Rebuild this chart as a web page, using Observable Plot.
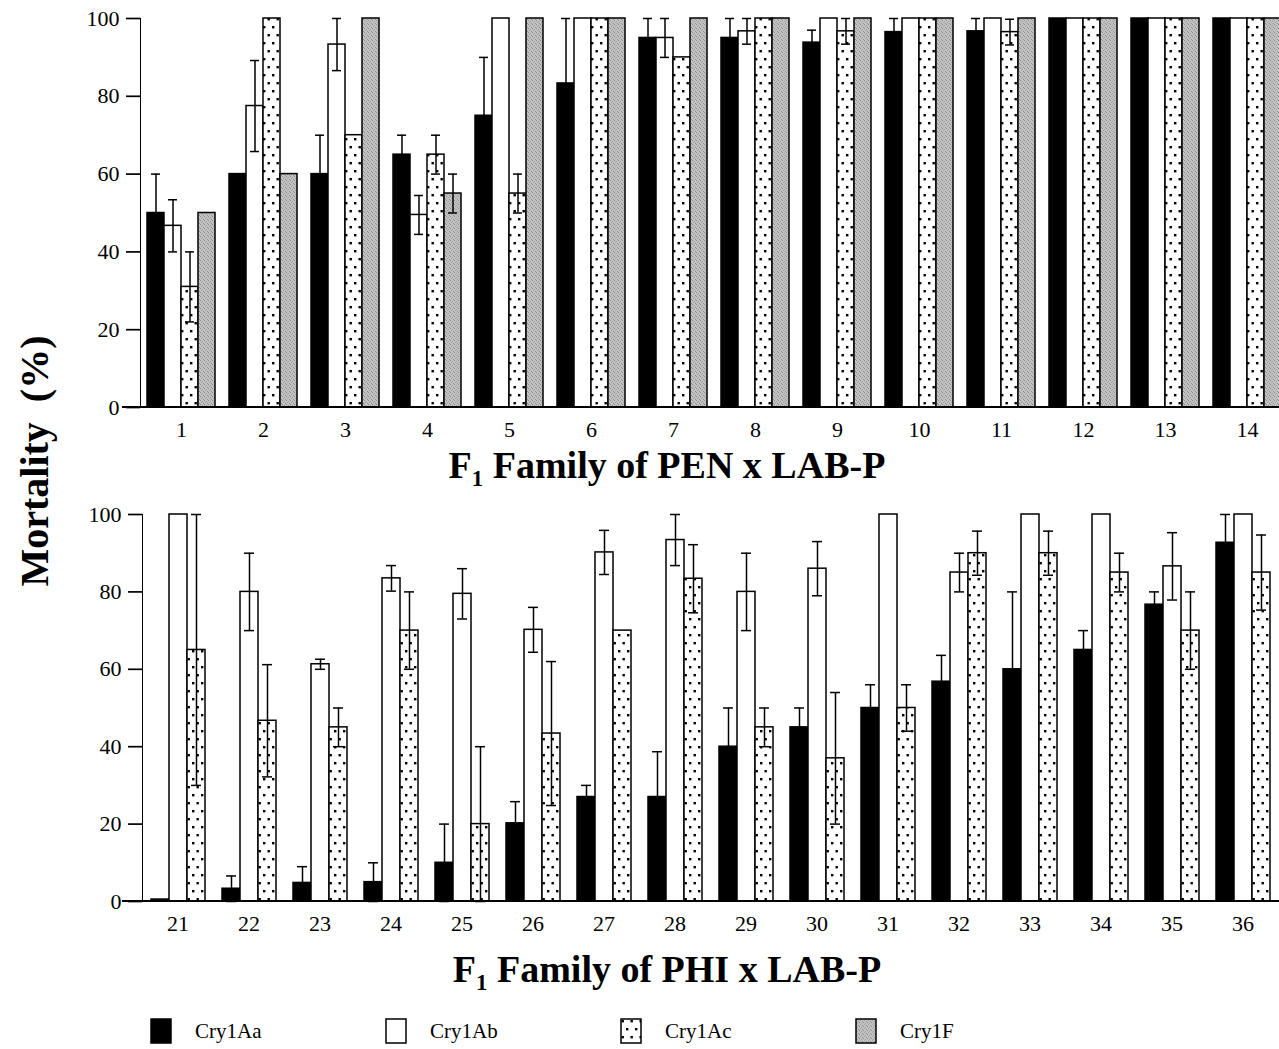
<!DOCTYPE html>
<html>
<head>
<meta charset="utf-8">
<script src="https://cdn.jsdelivr.net/npm/d3@7"></script>
<script src="https://cdn.jsdelivr.net/npm/@observablehq/plot@0.6"></script>
<style>
  body { margin: 0; background: #fff; }
  #page { position: relative; width: 1279px; height: 1049px; overflow: hidden; background: #fff;
          font-family: "Liberation Serif", "Times New Roman", serif; color: #000; }
  .panel { position: absolute; left: 0; }
  .panel svg { max-width: none !important; overflow: visible; }
  .panel svg [aria-label^="y-axis"] line, .panel svg [aria-label^="y-axis"] path { stroke-width: 1.7px; }
  .xtitle { position: absolute; left: 0; width: 1334px; text-align: center; font-weight: bold;
            font-size: 38px; line-height: 32px; white-space: nowrap; }
  .xtitle sub { font-size: 0.6em; vertical-align: -0.35em; line-height: 0; }
  .ytitle { position: absolute; left: 35px; top: 461px; transform: translate(-50%, -50%) rotate(-90deg);
            font-weight: bold; font-size: 40px; white-space: pre; line-height: 40px; }
  #legend { position: absolute; left: 150px; top: 1018px; display: flex; font-size: 21px; }
  #legend .item { width: 235px; display: flex; align-items: center; }
  #legend svg { margin-right: 23px; }
</style>
</head>
<body>
<svg width="0" height="0" style="position:absolute">
  <defs>
    <pattern id="dots" width="9" height="16" patternUnits="userSpaceOnUse">
      <rect width="9" height="16" fill="white"/>
      <rect x="1.5" y="2" width="2.4" height="2.4" fill="black"/>
      <rect x="6" y="10" width="2.4" height="2.4" fill="black"/>
    </pattern>
    <pattern id="grey" width="4" height="4" patternUnits="userSpaceOnUse">
      <rect width="4" height="4" fill="#c2c2c2"/>
      <rect x="0" y="0" width="1" height="1" fill="#8c8c8c"/>
      <rect x="2" y="1" width="1" height="1" fill="#9c9c9c"/>
      <rect x="3" y="3" width="1" height="1" fill="#909090"/>
      <rect x="1" y="2" width="1" height="1" fill="#a4a4a4"/>
    </pattern>
  </defs>
</svg>
<div id="page">
  <div class="panel" id="top" style="top:0px"></div>
  <div class="xtitle" style="top:449px">F<sub>1</sub> Family of PEN x LAB-P</div>
  <div class="panel" id="bottom" style="top:496px"></div>
  <div class="xtitle" style="top:953px">F<sub>1</sub> Family of PHI x LAB-P</div>
  <div class="ytitle">Mortality  (%)</div>
  <div id="legend"></div>
</div>
<script>
// ---- data ----
const series = ["Cry1Aa", "Cry1Ab", "Cry1Ac", "Cry1F"];
const seriesFills = ["black", "white", "url(#dots)", "url(#grey)"];
const yTicks = [0, 20, 40, 60, 80, 100];

// F1 family of PEN x LAB-P
const penFamilies = ["1","2","3","4","5","6","7","8","9","10","11","12","13","14"];
const penAa    = [50, 60, 60, 65, 75, 83.3, 95, 95, 93.8, 96.5, 96.7, 100, 100, 100];
const penAaErr = [10, 0, 10, 5, 15, 16.7, 5, 5, 3.2, 3.5, 3.3, 0, 0, 0];
const penAb    = [46.7, 77.5, 93.3, 49.5, 100, 100, 95, 96.7, 100, 100, 100, 100, 100, 100];
const penAbErr = [6.7, 11.7, 6.7, 5, 0, 0, 5, 3.3, 0, 0, 0, 0, 0, 0];
const penAc    = [31, 100, 70, 65, 55, 100, 90, 100, 96.7, 100, 96.5, 100, 100, 100];
const penAcErr = [9, 0, 0, 5, 5, 0, 0, 0, 3.3, 0, 3.3, 0, 0, 0];
const penF     = [50, 60, 100, 55, 100, 100, 100, 100, 100, 100, 100, 100, 100, 100];
const penFErr  = [0, 0, 0, 5, 0, 0, 0, 0, 0, 0, 0, 0, 0, 0];

// F1 family of PHI x LAB-P
const phiFamilies = ["21","22","23","24","25","26","27","28","29","30","31","32","33","34","35","36"];
const phiAa    = [0.5, 3.3, 4.8, 5, 10, 20.2, 27, 27, 40, 45, 50, 56.8, 60, 65, 76.7, 92.7];
const phiAaErr = [0, 3.3, 4.2, 5, 10, 5.6, 3, 11.7, 10, 5, 6, 6.8, 20, 5, 3.3, 7.3];
const phiAb    = [100, 80, 61.3, 83.5, 79.5, 70.2, 90.2, 93.4, 80, 86, 100, 85, 100, 100, 86.6, 100];
const phiAbErr = [0, 10, 1.3, 3.3, 6.5, 5.8, 5.7, 6.6, 10, 7, 0, 5, 0, 0, 8.7, 0];
const phiAc    = [65, 46.7, 45, 70, 20, 43.4, 70, 83.4, 45, 37, 50, 90, 90, 85, 70, 85];
const phiAcErr = [35, 14.5, 5, 10, 20, 18.6, 0, 8.8, 5, 17, 6, 5.7, 5.7, 5, 10, 9.7];

// ---- build tables ----
function buildRows(families, values, errors) {
  const out = [];
  families.forEach((f, i) => {
    values.forEach((vals, s) => {
      out.push({ family: f, series: series[s], value: vals[i], err: errors[s][i] });
    });
  });
  return out;
}
const penRows = buildRows(penFamilies, [penAa, penAb, penAc, penF], [penAaErr, penAbErr, penAcErr, penFErr]);
const phiRows = buildRows(phiFamilies, [phiAa, phiAb, phiAc], [phiAaErr, phiAbErr, phiAcErr]);

const Y_TICK = 14;

function panel(families, data, nSeries, o) {
  const ser = series.slice(0, nSeries);
  const hasErr = d => d.err > 0;
  const plot = Plot.plot({
    width: o.width, height: o.height,
    marginLeft: 136, marginRight: 0, marginTop: 18, marginBottom: o.marginBottom,
    style: { fontFamily: '"Liberation Serif", "Times New Roman", serif', fontSize: "22px", color: "black", background: "transparent", overflow: "visible" },
    facet: { data: data, x: "family" },
    fx: { domain: families, paddingInner: 0, paddingOuter: 0, axis: "bottom", label: null, tickSize: 0, tickPadding: 14 },
    x: { domain: ser, axis: null, paddingInner: 0, paddingOuter: o.gap },
    y: { domain: [0, 100], ticks: yTicks, tickSize: Y_TICK, tickPadding: 7, label: null, line: true },
    color: { type: "ordinal", domain: ser, range: seriesFills.slice(0, nSeries) },
    marks: [
      Plot.barY(data, { x: "series", y: "value", fill: "series", stroke: "black", strokeWidth: 1.5 }),
      Plot.ruleX(data, { filter: hasErr, x: "series", y1: d => d.value - d.err, y2: d => Math.min(100, d.value + d.err), stroke: "black", strokeWidth: 1.5 }),
      Plot.tickY(data, { filter: hasErr, x: "series", y: d => Math.min(100, d.value + d.err), insetLeft: 4, insetRight: 4, stroke: "black", strokeWidth: 1.5 }),
      Plot.tickY(data, { filter: hasErr, x: "series", y: d => d.value - d.err, insetLeft: 4, insetRight: 4, stroke: "black", strokeWidth: 1.5 })
    ]
  });
  // continuous baseline across all families, placed with the plot's own scales
  const ys = plot.scale("y");
  const yf = typeof ys.apply === "function" ? ys.apply : d3.scaleLinear(ys.domain, ys.range);
  let x0 = 136, x1 = o.width;
  try { const fxs = plot.scale("fx"); if (fxs && fxs.range) { x0 = fxs.range[0]; x1 = fxs.range[1]; } } catch (e) {}
  d3.select(plot).append("line")
    .attr("x1", x0 - Y_TICK).attr("x2", x1)
    .attr("y1", yf(0)).attr("y2", yf(0))
    .attr("stroke", "black").attr("stroke-width", 2.2);
  return plot;
}

document.getElementById("top").append(
  panel(penFamilies, penRows, 4, { width: 1291, height: 447, marginBottom: 40, gap: 0.357 })
);
document.getElementById("bottom").append(
  panel(phiFamilies, phiRows, 3, { width: 1284, height: 445, marginBottom: 40, gap: 0.375 })
);

// ---- legend ----
const legend = document.getElementById("legend");
series.forEach((s, i) => {
  const item = document.createElement("div");
  item.className = "item";
  item.innerHTML = `<svg width="22" height="26"><rect x="1" y="1" width="20" height="24" fill="${seriesFills[i]}" stroke="black" stroke-width="1.5"/></svg><span>${s}</span>`;
  legend.append(item);
});
</script>
</body>
</html>
